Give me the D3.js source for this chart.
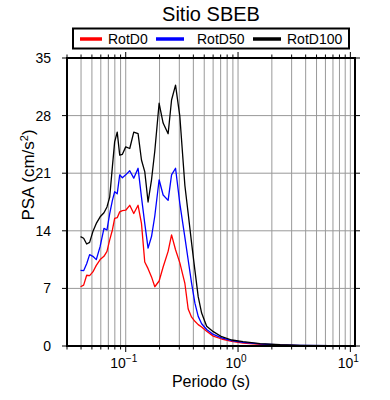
<!DOCTYPE html>
<html>
<head>
<meta charset="utf-8">
<script src="https://cdn.jsdelivr.net/npm/d3@7"></script>
<style>
	body { margin: 0; background: #fff; }
	text { font-family: "Liberation Sans", Arial, Helvetica, sans-serif; fill: #000; }
</style>
</head>
<body>
<div id="chart"></div>
<script>
// 주기 (s)
const periods = [0.0396, 0.0422, 0.0449, 0.0477, 0.0510, 0.0547, 0.0592, 0.0640, 0.0681, 0.0720,
	0.0761, 0.0797, 0.0840, 0.0884, 0.0934, 0.100, 0.1086, 0.1179, 0.1288, 0.1381,
	0.1477, 0.1581, 0.1697, 0.1815, 0.1983, 0.2153, 0.2385, 0.2559, 0.2777, 0.3033,
	0.3363, 0.3598, 0.3860, 0.4131, 0.4419, 0.4741, 0.5255, 0.6019, 0.7152, 0.8784,
	1.108, 1.572, 2.371, 3.578, 6.63, 10.0];

const rotD0 = [7.2, 7.4, 8.6, 8.55, 9.0, 9.8, 10.5, 10.9, 11.5, 12.9,
	14.1, 15.5, 15.6, 16.3, 16.45, 16.5, 17.1, 16.1, 17.1, 14.9,
	10.2, 9.4, 8.4, 7.2, 7.9, 9.6, 11.5, 13.5, 11.7, 10.1,
	7.6, 4.5, 3.5, 3.0, 2.6, 2.3, 1.8, 1.2, 0.85, 0.55,
	0.35, 0.2, 0.1, 0.05, 0.03, 0.02];

const rotD50 = [9.2, 9.15, 10.0, 11.1, 10.9, 10.5, 12.1, 14.3, 14.1, 16.1,
	17.7, 18.75, 18.5, 20.8, 20.45, 20.8, 21.3, 20.4, 21.6, 18.1,
	14.9, 11.9, 13.3, 15.8, 20.2, 18.35, 17.7, 20.8, 21.6, 17.3,
	13.2, 10.45, 7.6, 5.2, 3.6, 2.7, 2.0, 1.4, 1.0, 0.66,
	0.45, 0.25, 0.12, 0.07, 0.04, 0.03];

const rotD100 = [13.3, 13.1, 12.4, 12.6, 13.9, 14.9, 15.7, 16.2, 16.9, 18.1,
	21.8, 24.8, 26.0, 23.2, 23.3, 24.2, 24.0, 26.0, 25.8, 22.6,
	21.2, 17.5, 20.2, 23.7, 29.5, 27.1, 25.8, 29.9, 31.7, 27.9,
	19.5, 16.1, 12.5, 9.2, 6.0, 4.0, 2.4, 1.74, 1.13, 0.73,
	0.52, 0.3, 0.15, 0.08, 0.04, 0.03];

const seriesNames = ["RotD0", "RotD50", "RotD100"];
const seriesColors = ["#ff0000", "#0000ff", "#000000"];
const yTicks = [0, 7, 14, 21, 28, 35];
const xDecades = [0.1, 1, 10];
const xDecadeExp = ["\u22121", "0", "1"];

const W = 390, H = 400;
const plot = {left: 67, right: 355, top: 58, bottom: 346};

const svg = d3.select("#chart").append("svg")
	.attr("width", W)
	.attr("height", H);

const x = d3.scaleLog().domain([0.03, 11]).range([plot.left, plot.right]);
const y = d3.scaleLinear().domain([0, 35]).range([plot.bottom, plot.top]);

// 격자선
const gridTicks = x.ticks();
svg.append("g")
	.selectAll("line")
	.data(gridTicks)
	.join("line")
	.attr("x1", d => x(d)).attr("x2", d => x(d))
	.attr("y1", plot.top).attr("y2", plot.bottom)
	.attr("stroke", "#999")
	.attr("stroke-width", 1);

svg.append("g")
	.selectAll("line")
	.data(yTicks.slice(1, -1))
	.join("line")
	.attr("x1", plot.left).attr("x2", plot.right)
	.attr("y1", d => y(d)).attr("y2", d => y(d))
	.attr("stroke", "#999")
	.attr("stroke-width", 1);

// 곡선
const seriesData = [rotD0, rotD50, rotD100];
const line = d3.line()
	.x((d, i) => x(periods[i]))
	.y(d => y(d));

seriesData.forEach((vals, k) => {
	svg.append("path")
		.datum(vals)
		.attr("fill", "none")
		.attr("stroke", seriesColors[k])
		.attr("stroke-width", 1.3)
		.attr("stroke-linejoin", "round")
		.attr("d", line);
});

// 축 눈금
const isDecade = d => Math.abs(Math.log10(d) - Math.round(Math.log10(d))) < 1e-6;

function xAxis(g, dir) {
	g.selectAll("line")
		.data(gridTicks)
		.join("line")
		.attr("x1", d => x(d)).attr("x2", d => x(d))
		.attr("y1", 0)
		.attr("y2", d => dir * (isDecade(d) ? 6 : 3.5))
		.attr("stroke", "#000")
		.attr("stroke-width", 1);
}
svg.append("g").attr("transform", `translate(0,${plot.bottom})`).call(g => xAxis(g, 1));
svg.append("g").attr("transform", `translate(0,${plot.top})`).call(g => xAxis(g, -1));

function yAxisTicks(g, dir) {
	g.selectAll("line")
		.data(yTicks)
		.join("line")
		.attr("y1", d => y(d)).attr("y2", d => y(d))
		.attr("x1", 0).attr("x2", dir * 5)
		.attr("stroke", "#000")
		.attr("stroke-width", 1);
}
svg.append("g").attr("transform", `translate(${plot.left},0)`).call(g => yAxisTicks(g, -1));
svg.append("g").attr("transform", `translate(${plot.right},0)`).call(g => yAxisTicks(g, 1));

// 프레임
svg.append("rect")
	.attr("x", plot.left).attr("y", plot.top)
	.attr("width", plot.right - plot.left)
	.attr("height", plot.bottom - plot.top)
	.attr("fill", "none")
	.attr("stroke", "#000")
	.attr("stroke-width", 2);

// Y 라벨
svg.append("g")
	.selectAll("text")
	.data(yTicks)
	.join("text")
	.attr("x", plot.left - 16)
	.attr("y", d => y(d))
	.attr("dy", "0.36em")
	.attr("text-anchor", "end")
	.style("font-size", "14px")
	.text(d => d);

// X 라벨 (10^n)
const xl = svg.append("g")
	.selectAll("text")
	.data(xDecades)
	.join("text")
	.attr("x", d => x(d) - 2)
	.attr("y", 368)
	.attr("text-anchor", "middle")
	.style("font-size", "14px");
xl.append("tspan").text("10");
xl.append("tspan")
	.attr("dy", "-6")
	.style("font-size", "10px")
	.text((d, i) => xDecadeExp[i]);

svg.append("text")
	.attr("x", (plot.left + plot.right) / 2)
	.attr("y", 387)
	.attr("text-anchor", "middle")
	.style("font-size", "16px")
	.text("Periodo (s)");

const yl = svg.append("text")
	.attr("transform", `translate(34,175) rotate(-90)`)
	.attr("text-anchor", "middle")
	.style("font-size", "17px");
yl.append("tspan").text("PSA (cm/s");
yl.append("tspan").attr("dy", "-6").style("font-size", "11px").text("2");
yl.append("tspan").attr("dy", "6").text(")");

// 제목
svg.append("text")
	.attr("x", (plot.left + plot.right) / 2)
	.attr("y", 21)
	.attr("text-anchor", "middle")
	.style("font-size", "20px")
	.text("Sitio SBEB");

// 범례
svg.append("rect")
	.attr("x", 73).attr("y", 28.5)
	.attr("width", 276).attr("height", 20)
	.attr("fill", "#fff")
	.attr("stroke", "#000")
	.attr("stroke-width", 2);

const legendX = [80, 156, 253];
const legend = svg.append("g")
	.selectAll("g")
	.data(seriesNames)
	.join("g")
	.attr("transform", (d, i) => `translate(${legendX[i]},39)`);
legend.append("line")
	.attr("x1", 0).attr("x2", (d, i) => i === 0 ? 22 : 28)
	.attr("stroke", (d, i) => seriesColors[i])
	.attr("stroke-width", 3.5);
legend.append("text")
	.attr("x", (d, i) => i === 0 ? 28 : i === 1 ? 41 : 34)
	.attr("dy", "0.36em")
	.style("font-size", "14px")
	.text(d => d);
</script>
</body>
</html>
